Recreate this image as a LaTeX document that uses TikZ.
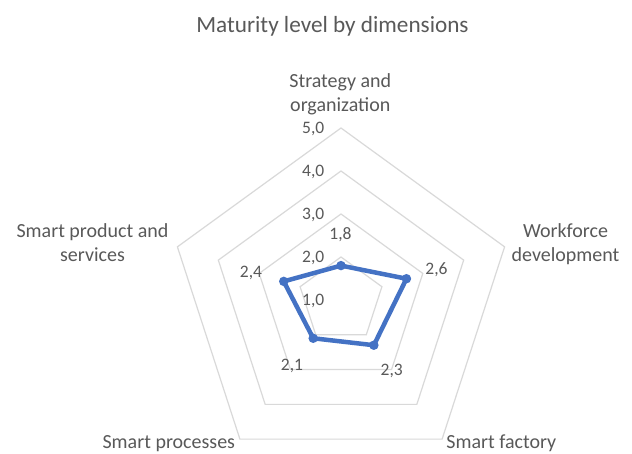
\documentclass[tikz,border=0pt]{standalone}
\usepackage{fontspec}
\setmainfont{Carlito}
\definecolor{txt}{HTML}{595959}
\definecolor{gridc}{HTML}{D9D9D9}
\definecolor{ser}{HTML}{4472C4}
\begin{document}
\begin{tikzpicture}[x=1pt,y=1pt,
  every node/.style={inner sep=0pt, text=txt},
  gridline/.style={draw=gridc, line width=1.2pt, line join=miter},
  cat/.style={font=\fontsize{20}{24.4}\selectfont, align=center, anchor=base},
  num/.style={font=\fontsize{17.5}{21}\selectfont, anchor=base},
  axnum/.style={font=\fontsize{17.5}{21}\selectfont, anchor=base east},
  series/.style={draw=ser, line width=4.5pt, line join=round},
  dot/.style={circle, fill=ser, minimum size=9.5pt, inner sep=0pt}]
\useasboundingbox (0,0) rectangle (632,454);
\fill[white] (0,0) rectangle (632,454);
% title
\node[font=\fontsize{23.2}{28}\selectfont, anchor=base] (title) at (332.5,421) {Maturity level by dimensions};
% grid rings
\begin{scope}[shift={(341,154)}]
\foreach \k in {1,2,3,4} {
  \pgfmathsetmacro\r{43*\k}
  \draw[gridline] (90:\r) -- (18:\r) -- (-54:\r) -- (-126:\r) -- (162:\r) -- cycle;
}
% data
\coordinate (d1) at (90:34.4);
\coordinate (d2) at (18:68.8);
\coordinate (d3) at (-54:55.9);
\coordinate (d4) at (-126:47.3);
\coordinate (d5) at (162:60.2);
\draw[series] (d1) -- (d2) -- (d3) -- (d4) -- (d5) -- cycle;
\node[dot] (m1) at (d1) {};
\node[dot] (m2) at (d2) {};
\node[dot] (m3) at (d3) {};
\node[dot] (m4) at (d4) {};
\node[dot] (m5) at (d5) {};
\end{scope}
% axis labels
\node[axnum] (a1) at (324.5,148) {1,0};
\node[axnum] (a2) at (324.5,191) {2,0};
\node[axnum] (a3) at (324.5,234) {3,0};
\node[axnum] (a4) at (324.5,277) {4,0};
\node[axnum] (a5) at (324.5,320) {5,0};
% data labels
\node[num] (l1) at (340.5,214) {1,8};
\node[num] (l2) at (436.5,179) {2,6};
\node[num] (l3) at (391.7,78) {2,3};
\node[num] (l4) at (292,83) {2,1};
\node[num] (l5) at (251,176.7) {2,4};
% category labels
\node[cat] (c1) at (340.3,342.5) {Strategy and\\organization};
\node[cat] (c2) at (565.5,192.3) {Workforce\\development};
\node[cat] (c3) at (168.8,5) {Smart processes};
\node[cat] (c4) at (501.3,5) {Smart factory};
\node[cat] (c5) at (92.5,192.3) {Smart product and\\services};
\end{tikzpicture}
\end{document}
